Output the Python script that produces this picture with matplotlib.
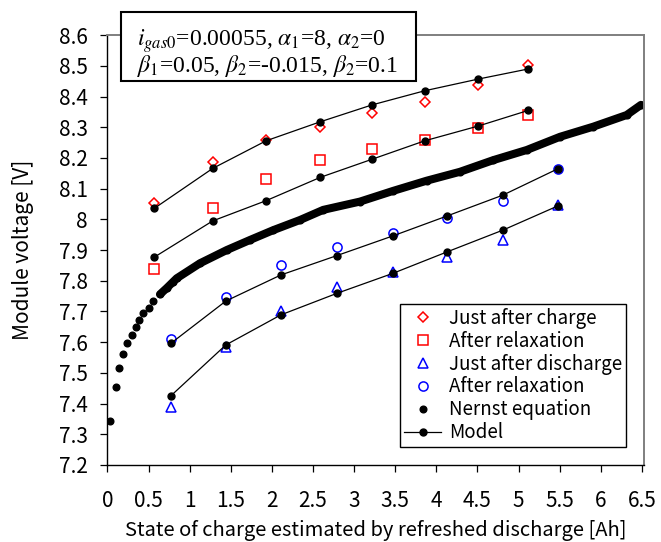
import matplotlib
matplotlib.use('Agg')
import matplotlib.pyplot as plt
from matplotlib.lines import Line2D
from matplotlib.patches import Rectangle

# Data
# Points of the "charge" side (diamonds / squares) and their model lines
x_charge = [0.57, 1.28, 1.93, 2.59, 3.22, 3.86, 4.51, 5.12]
v_just_after_charge = [8.052, 8.188, 8.259, 8.302, 8.346, 8.383, 8.438, 8.503]
v_model_after_charge = [8.036, 8.166, 8.256, 8.318, 8.373, 8.419, 8.457, 8.490]
v_relax_charge = [7.838, 8.036, 8.133, 8.193, 8.229, 8.260, 8.297, 8.339]
v_model_relax_charge = [7.877, 7.995, 8.061, 8.137, 8.196, 8.256, 8.304, 8.355]

# Points of the "discharge" side (triangles / circles) and their model lines
x_discharge = [0.77, 1.44, 2.11, 2.79, 3.47, 4.13, 4.81, 5.48]
v_just_after_discharge = [7.390, 7.583, 7.702, 7.781, 7.830, 7.877, 7.933, 8.047]
v_model_after_discharge = [7.425, 7.591, 7.689, 7.759, 7.824, 7.894, 7.965, 8.044]
v_relax_discharge = [7.609, 7.748, 7.852, 7.911, 7.957, 8.004, 8.060, 8.163]
v_model_relax_discharge = [7.596, 7.734, 7.819, 7.882, 7.946, 8.011, 8.079, 8.165]

# Nernst equation curve
x_nernst = [0.03, 0.10, 0.144, 0.192, 0.234, 0.298, 0.343, 0.387, 0.436, 0.501,
            0.557, 0.639, 0.720, 0.800, 0.842, 1.125, 1.450, 1.734, 2.017, 2.342,
            2.625, 3.072, 3.477, 3.883, 4.288, 4.693, 5.100, 5.505, 5.910, 6.316,
            6.490]
v_nernst = [7.344, 7.453, 7.517, 7.562, 7.596, 7.624, 7.650, 7.671, 7.694, 7.711,
            7.733, 7.756, 7.776, 7.797, 7.808, 7.857, 7.900, 7.933, 7.965, 7.998,
            8.031, 8.058, 8.093, 8.126, 8.155, 8.193, 8.226, 8.269, 8.302, 8.340,
            8.373]

x_ticks = [0, 0.5, 1, 1.5, 2, 2.5, 3, 3.5, 4, 4.5, 5, 5.5, 6, 6.5]
y_ticks = [7.2, 7.3, 7.4, 7.5, 7.6, 7.7, 7.8, 7.9, 8.0, 8.1, 8.2, 8.3, 8.4, 8.5, 8.6]

plt.rcParams['font.family'] = ['Noto Sans CJK JP', 'DejaVu Sans']
plt.rcParams['mathtext.fontset'] = 'stix'

fig = plt.figure(figsize=(6.61, 5.42), dpi=100)
ax = fig.add_axes([0.1626, 0.1421, 0.8121, 0.7930])

# measured points (open markers)
ax.plot(x_charge, v_just_after_charge, 'D', ms=5.3, mfc='none', mec='red', mew=1.1)
ax.plot(x_charge, v_relax_charge, 's', ms=6.7, mfc='none', mec='red', mew=1.1)
ax.plot(x_discharge, v_just_after_discharge, '^', ms=7.5, mfc='none', mec='blue', mew=1.1)
ax.plot(x_discharge, v_relax_discharge, 'o', ms=6.6, mfc='none', mec='blue', mew=1.1)

# Nernst curve: separate dots at the start, dense band afterwards
ax.plot(x_nernst, v_nernst, 'o', ms=4.8, color='black', mec='black')
dense = [i for i, xv in enumerate(x_nernst) if xv >= 0.6]
ax.plot([x_nernst[i] for i in dense], [v_nernst[i] for i in dense], '-',
        color='black', lw=5.8, solid_capstyle='round')

# model lines
for v, xs in [(v_model_after_charge, x_charge), (v_model_relax_charge, x_charge),
              (v_model_after_discharge, x_discharge), (v_model_relax_discharge, x_discharge)]:
    ax.plot(xs, v, '-o', color='black', lw=0.9, ms=5)

ax.set_xlim(0, 6.53)
ax.set_ylim(7.2, 8.6)
ax.set_xticks(x_ticks)
ax.set_xticklabels(['%g' % t for t in x_ticks])
ax.set_yticks(y_ticks)
ax.set_yticklabels(['%g' % t for t in y_ticks])
ax.tick_params(direction='out', length=5, width=0.9, labelsize=15, top=False, right=False)
ax.tick_params(axis='x', pad=13)
ax.tick_params(axis='y', pad=9)

for s in ['left', 'bottom']:
    ax.spines[s].set_color('black')
    ax.spines[s].set_linewidth(1.0)
for s in ['top', 'right']:
    ax.spines[s].set_color('#7f7f7f')
    ax.spines[s].set_linewidth(1.4)

ax.set_xlabel('State of charge estimated by refreshed discharge [Ah]', fontsize=14.5, labelpad=6)
ax.set_ylabel('Module voltage [V]', fontsize=15, labelpad=18)

handles = [
    Line2D([], [], ls='none', marker='D', ms=5.3, mfc='none', mec='red', mew=1.1),
    Line2D([], [], ls='none', marker='s', ms=6.7, mfc='none', mec='red', mew=1.1),
    Line2D([], [], ls='none', marker='^', ms=7.5, mfc='none', mec='blue', mew=1.1),
    Line2D([], [], ls='none', marker='o', ms=6.6, mfc='none', mec='blue', mew=1.1),
    Line2D([], [], ls='none', marker='o', ms=4.8, color='black'),
    Line2D([], [], ls='-', marker='o', ms=5, lw=0.9, color='black'),
]
labels = ['Just after charge', 'After relaxation', 'Just after discharge',
          'After relaxation', 'Nernst equation', 'Model']
leg = ax.legend(handles, labels, loc='lower left', bbox_to_anchor=(0.545, 0.042),
                borderaxespad=0, fontsize=13.5, labelspacing=0.1, handlelength=2.0,
                handletextpad=0.4, borderpad=0.2, fancybox=False, framealpha=1)
leg.get_frame().set_edgecolor('black')
leg.get_frame().set_linewidth(1.0)

# parameter box (figure pixel layout)
box = Rectangle((121 / 661, 1 - 81 / 542), 295 / 661, 69 / 542, transform=fig.transFigure,
                fc='white', ec='black', lw=1.5, zorder=10)
fig.add_artist(box)
fig.text(137 / 661, 1 - 46 / 542, r'$i_{gas0}$=0.00055, $\alpha_1$=8, $\alpha_2$=0',
         family='Liberation Serif', fontsize=17, va='baseline', ha='left', zorder=11)
fig.text(137 / 661, 1 - 72 / 542, r'$\beta_1$=0.05, $\beta_2$=-0.015, $\beta_2$=0.1',
         family='Liberation Serif', fontsize=17, va='baseline', ha='left', zorder=11)

fig.savefig('out.png', dpi=100)
